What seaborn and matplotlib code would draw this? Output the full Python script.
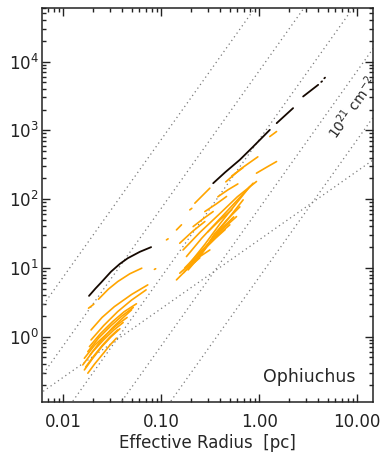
import numpy as np
import pandas as pd
import matplotlib
matplotlib.use("Agg")
import matplotlib.pyplot as plt
import seaborn as sns
from matplotlib.ticker import FixedLocator, NullFormatter, LogLocator

# ---------------- data (effective radius [pc], mass [Msun]) ----------------
black_R = {
    "b1": [0.0184, 0.0214, 0.0244, 0.0309, 0.0379, 0.0457, 0.0607, 0.0791],
    "b2": [0.340, 0.45, 0.635, 0.85, 1.10, 1.285],
    "b3": [1.51, 2.22],
    "b4": [2.81, 4.00],
    "b5": [4.30, 4.38],
    "b6": [4.62, 4.70],
}
black_M = {
    "b1": [3.91, 5.0, 6.1, 8.82, 11.4, 13.8, 17.1, 20.0],
    "b2": [170, 245, 372, 560, 811, 1015],
    "b3": [1270, 2100],
    "b4": [3100, 4580],
    "b5": [5050, 5150],
    "b6": [5700, 5830],
}

orange_R = {
    # small-scale group
    "L1": [0.0230, 0.0290, 0.0361, 0.0480, 0.0635],
    "L2": [0.0182, 0.0206],
    "L3": [0.0193, 0.0250, 0.0334, 0.0500, 0.0731],
    "L4": [0.0193, 0.0260, 0.0361, 0.0500, 0.0703],
    "L5": [0.0186, 0.0240, 0.0320, 0.0420, 0.0560],
    "L6": [0.0179, 0.0230, 0.0310, 0.0400, 0.0520],
    "L7": [0.0190, 0.0240, 0.0320, 0.0420, 0.0500],
    "L8": [0.0165, 0.0210, 0.0280, 0.0360, 0.0450],
    "L9": [0.0159, 0.0200, 0.0260, 0.0330, 0.0410],
    "L10": [0.0165, 0.0200, 0.0250, 0.0310, 0.0380],
    "L11": [0.0179, 0.0210, 0.0260, 0.0300, 0.0350],
    "L12": [0.0170, 0.0205, 0.0250, 0.0300, 0.0360],
    "L13": [0.0855, 0.0880],
    # large-scale group
    "R1": [0.9395, 1.20, 1.505],
    "R2": [0.4574, 0.65, 0.9697],
    "R3": [0.5263, 0.6820],
    "R4": [0.2210, 0.3142],
    "R5": [0.1963, 0.2057],
    "R6": [0.2793, 0.37, 0.4650],
    "R7": [0.3793, 0.48, 0.6063],
    "R8": [0.1435, 0.1614],
    "R9": [0.1135, 0.1178],
    "R10": [0.155, 0.21, 0.2793],
    "R11": [0.2122, 0.27, 0.3397],
    "R12": [0.1675, 0.25, 0.40, 0.60, 0.9395],
    "R13": [0.1815, 0.26, 0.40, 0.58, 0.8683],
    "R14": [0.1963, 0.28, 0.40, 0.56, 0.8035],
    "R15": [0.1887, 0.26, 0.35, 0.50, 0.6866],
    "R16": [0.2210, 0.28, 0.35, 0.47, 0.6355],
    "R17": [0.2685, 0.40, 0.5878],
    "R18": [0.1435, 0.19, 0.2483],
    "R19": [0.155, 0.22, 0.3142],
    "R20": [0.1744, 0.23, 0.30, 0.39, 0.5021],
    "R21": [1.285, 1.505],
    "R22": [0.2997, 0.40, 0.5263],
    "R23": [0.200, 0.26, 0.33, 0.43, 0.55],
    "R24": [0.170, 0.22, 0.28, 0.36, 0.45],
}
orange_M = {
    "L1": [3.50, 4.90, 6.31, 8.20, 9.88],
    "L2": [2.59, 2.96],
    "L3": [1.25, 1.90, 2.73, 4.10, 5.65],
    "L4": [0.895, 1.45, 2.31, 3.40, 4.78],
    "L5": [0.716, 1.10, 1.65, 2.30, 3.00],
    "L6": [0.605, 0.95, 1.45, 2.00, 2.65],
    "L7": [0.55, 0.85, 1.35, 1.95, 2.45],
    "L8": [0.485, 0.75, 1.10, 1.50, 1.90],
    "L9": [0.388, 0.60, 0.90, 1.25, 1.60],
    "L10": [0.328, 0.48, 0.72, 1.00, 1.30],
    "L11": [0.294, 0.40, 0.58, 0.75, 0.95],
    "L12": [0.36, 0.52, 0.74, 0.98, 1.25],
    "L13": [9.5, 9.7],
    "R1": [238, 292, 351],
    "R2": [178, 275, 411],
    "R3": [217, 284],
    "R4": [87.2, 144],
    "R5": [69.7, 73.3],
    "R6": [65.8, 86, 109],
    "R7": [108, 136, 166],
    "R8": [35.6, 42.2],
    "R9": [25.5, 26.4],
    "R10": [22.8, 34, 47.1],
    "R11": [39.8, 52, 65.8],
    "R12": [18.2, 33, 62, 108, 180],
    "R13": [14.6, 27, 52, 92, 170],
    "R14": [11.7, 22, 44, 80, 152],
    "R15": [9.33, 16, 29, 55, 97.3],
    "R16": [12.2, 19, 31, 50, 77],
    "R17": [18.2, 34, 55.6],
    "R18": [6.68, 10, 14.0],
    "R19": [8.36, 13, 18.2],
    "R20": [9.98, 15, 22, 31, 42.2],
    "R21": [811, 959],
    "R22": [33.3, 50, 69.7],
    "R23": [11.0, 17, 26, 39, 55],
    "R24": [8.5, 13, 19, 27, 36],
}

col_dens = [1e20, 1e21, 1e22, 1e23, 1e24]   # cm^-2, constant column density lines
crit_coeff = 25.5                             # Msun / pc, M proportional to R line

x_ticks = [0.01, 0.1, 1.0, 10.0]
x_ticklabels = ["0.01", "0.10", "1.00", "10.00"]
y_ticks = [1, 10, 100, 1000, 10000]
y_ticklabels = [r"$10^{0}$", r"$10^{1}$", r"$10^{2}$", r"$10^{3}$", r"$10^{4}$"]


def to_frame(Rd, Md):
    rows = []
    for k in Rd:
        for r, m in zip(Rd[k], Md[k]):
            rows.append({"curve": k, "R": r, "M": m})
    return pd.DataFrame(rows)


df_black = to_frame(black_R, black_M)
df_orange = to_frame(orange_R, orange_M)

# ---------------- style ----------------
sns.set_theme(style="ticks", rc={
    "xtick.direction": "in", "ytick.direction": "in",
    "xtick.top": True, "ytick.right": True,
    "xtick.major.size": 5.5, "ytick.major.size": 5.5,
    "xtick.minor.size": 3, "ytick.minor.size": 3,
    "xtick.major.width": 1.0, "ytick.major.width": 1.0,
    "xtick.minor.width": 1.0, "ytick.minor.width": 1.0,
    "axes.linewidth": 1.1,
    "axes.edgecolor": "#222222",
})
plt.rcParams["font.family"] = ["DejaVu Sans"]
plt.rcParams["font.size"] = 12

fig = plt.figure(figsize=(3.83, 4.55), dpi=100)
ax = fig.add_axes([42 / 383, 53 / 455, 331 / 383, 394 / 455])
ax.set_xscale("log")
ax.set_yscale("log")

# reference lines
Rgrid = np.logspace(-3, 2, 60)
mu, mH, pc, Msun = 2.9, 1.6735e-24, 3.0857e18, 1.989e33
for N in col_dens:
    sigma = N * mu * mH * pc ** 2 / Msun
    ax.plot(Rgrid, np.pi * sigma * Rgrid ** 2, color="#7a7a7a", lw=0.9,
            linestyle=(0, (1, 2.6)), zorder=1)
ax.plot(Rgrid, crit_coeff * Rgrid, color="#7a7a7a", lw=0.9,
        linestyle=(0, (1, 2.6)), zorder=1)

sns.lineplot(data=df_orange, x="R", y="M", units="curve", estimator=None,
             sort=False, color="#FFA500", lw=1.2, ax=ax, zorder=2)
sns.lineplot(data=df_black, x="R", y="M", units="curve", estimator=None,
             sort=False, color="#150800", lw=1.3, ax=ax, zorder=3)

ax.set_xlim(0.0061, 14.5)
ax.set_ylim(0.112, 6.0e4)

ax.xaxis.set_major_locator(FixedLocator(x_ticks))
ax.set_xticklabels(x_ticklabels)
ax.yaxis.set_major_locator(FixedLocator(y_ticks))
ax.set_yticklabels(y_ticklabels)
ax.xaxis.set_minor_locator(LogLocator(base=10, subs=np.arange(2, 10)))
ax.yaxis.set_minor_locator(LogLocator(base=10, subs=np.arange(2, 10)))
ax.xaxis.set_minor_formatter(NullFormatter())
ax.yaxis.set_minor_formatter(NullFormatter())
ax.tick_params(axis="x", which="both", pad=8, labelsize=12, colors="#222222")
ax.tick_params(axis="y", which="both", pad=2.5, labelsize=12, colors="#222222")

ax.set_xlabel("Effective Radius  [pc]", fontsize=12, labelpad=2)
ax.set_ylabel("")

ax.text(9.0, 2150, r"$10^{21}$ cm$^{-2}$", rotation=54.5, ha="center",
        va="center", fontsize=10, rotation_mode="anchor")
ax.text(0.946, 0.04, "Ophiuchus", transform=ax.transAxes, ha="right",
        va="bottom", fontsize=12.5)

fig.savefig("out.png", dpi=100)
